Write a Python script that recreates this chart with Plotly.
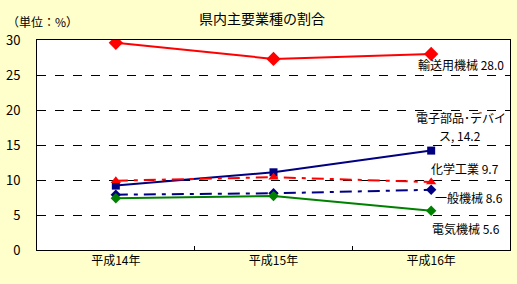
import plotly.graph_objects as go

years = ["平成14年", "平成15年", "平成16年"]
transport = [29.6, 27.3, 28.0]
electronics = [9.2, 11.1, 14.2]
chemical = [9.9, 10.4, 9.7]
general = [7.9, 8.1, 8.6]
electric = [7.4, 7.7, 5.6]

labels = [
    ("輸送用機械 28.0", 462, 64),
    ("電子部品･デバイ", 462, 117),
    ("ス, 14.2", 461, 135),
    ("化学工業 9.7", 466, 168),
    ("一般機械 8.6", 470, 197),
    ("電気機械 5.6", 467, 228),
]

FONT = "Noto Sans CJK JP"

fig = go.Figure()
fig.add_trace(go.Scatter(x=years, y=transport, mode="lines+markers",
                         line=dict(color="#FF0000", width=2),
                         marker=dict(symbol="diamond", size=11, color="#FF0000")))
fig.add_trace(go.Scatter(x=years, y=electronics, mode="lines+markers",
                         line=dict(color="#000080", width=2),
                         marker=dict(symbol="square", size=8, color="#000080")))
fig.add_trace(go.Scatter(x=years, y=chemical, mode="lines+markers",
                         line=dict(color="#FF0000", width=2, dash="12px,6px,4px,6px"),
                         marker=dict(symbol="triangle-up", size=9, color="#FF0000")))
fig.add_trace(go.Scatter(x=years, y=general, mode="lines+markers",
                         line=dict(color="#000080", width=2, dash="12px,6px,4px,6px"),
                         marker=dict(symbol="diamond", size=8, color="#000080")))
fig.add_trace(go.Scatter(x=years, y=electric, mode="lines+markers",
                         line=dict(color="#008000", width=2),
                         marker=dict(symbol="diamond", size=8, color="#008000")))

W, H = 517, 284
L, R, T, B = 36, 6, 40, 34
pw, ph = W - L - R, H - T - B


def px2paper(px, py):
    return (px - L) / pw, (H - B - py) / ph


annotations = []
x, y = px2paper(262, 18)
annotations.append(dict(text="県内主要業種の割合", x=x, y=y, xref="paper", yref="paper",
                        xanchor="center", yanchor="middle", showarrow=False,
                        font=dict(size=14, color="black", family=FONT)))
x, y = px2paper(4, 21)
annotations.append(dict(text="（単位：%）", x=x, y=y, xref="paper", yref="paper",
                        xanchor="left", yanchor="middle", showarrow=False,
                        font=dict(size=12, color="black", family=FONT)))
for t, lx, ly in labels:
    x, y = px2paper(lx, ly)
    annotations.append(dict(text=t, x=x, y=y, xref="paper", yref="paper",
                            xanchor="center", yanchor="middle", showarrow=False,
                            font=dict(size=12, color="black", family=FONT)))

fig.update_layout(
    width=W, height=H,
    margin=dict(l=L, r=R, t=T, b=B),
    paper_bgcolor="#FFFFCC",
    plot_bgcolor="white",
    showlegend=False,
    font=dict(family=FONT, color="black", size=12),
    annotations=annotations,
)
fig.update_xaxes(range=[-0.5, 2.5], showline=True, linecolor="black", linewidth=1,
                 mirror=True, showgrid=False, ticks="inside", ticklen=4,
                 tickcolor="black", tickson="boundaries",
                 tickfont=dict(size=12, family=FONT))
fig.update_yaxes(range=[0, 30], dtick=5, showline=True, linecolor="black",
                 linewidth=1, mirror=True, showgrid=True, gridcolor="black",
                 griddash="dash", gridwidth=1, zeroline=False, ticks="",
                 ticklabelstandoff=13, tickfont=dict(size=13, family=FONT))

fig.write_html("out.html")
